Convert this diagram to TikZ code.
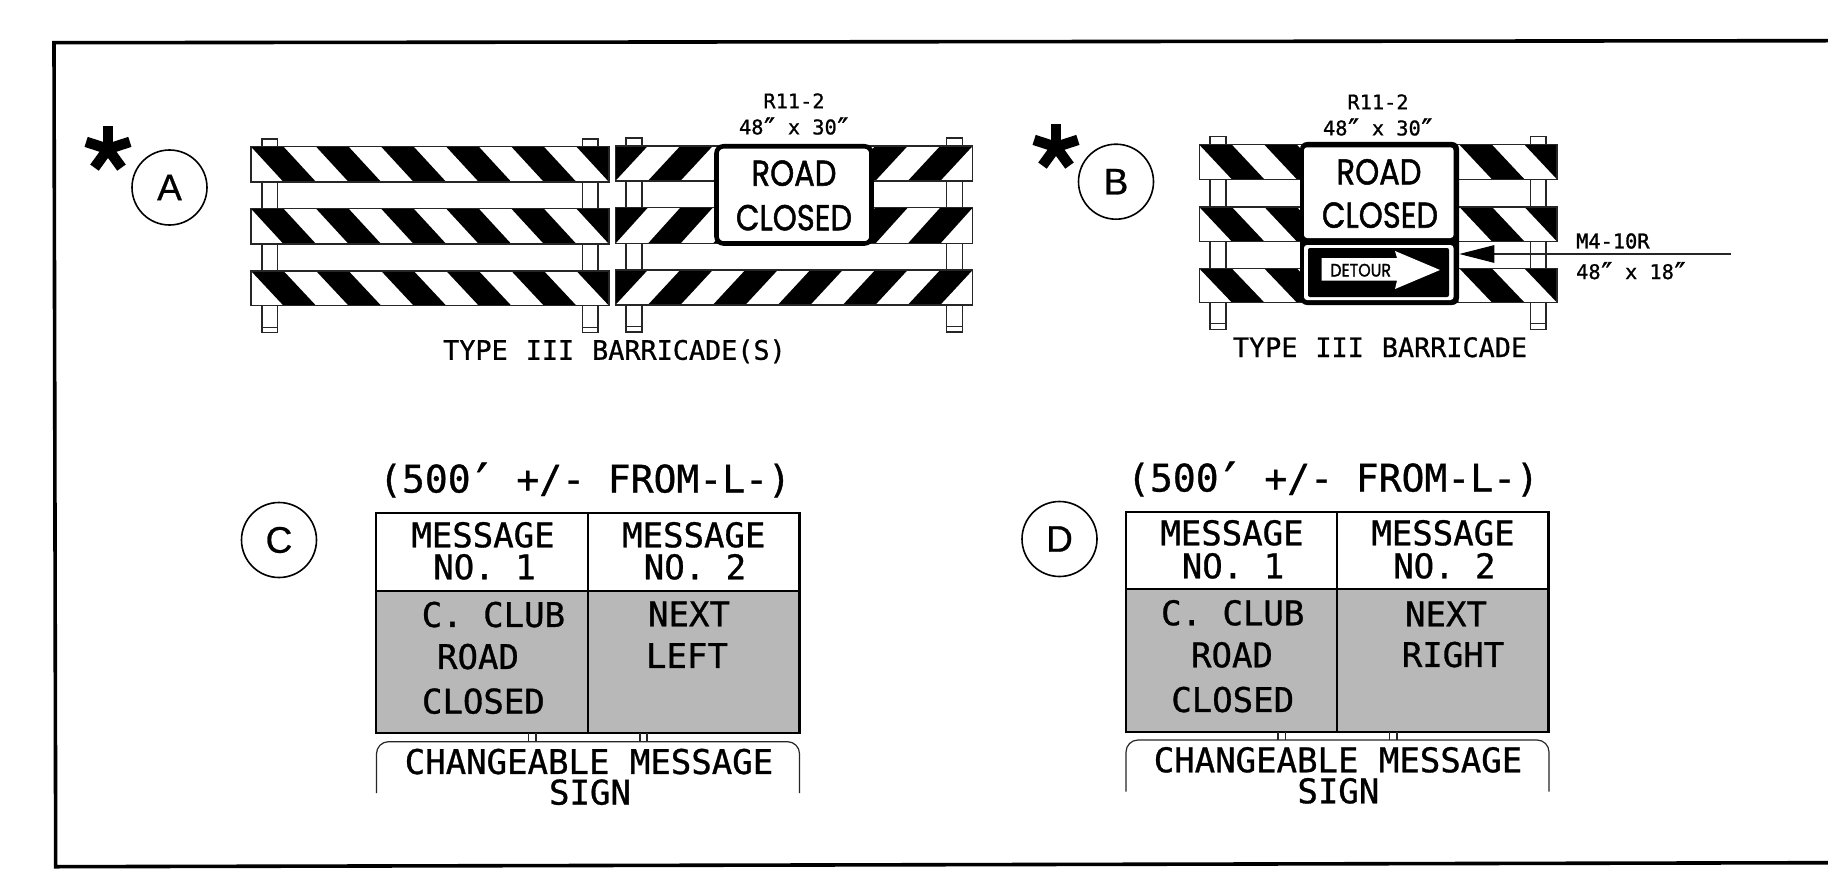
\documentclass[tikz,border=0pt]{standalone}
\usepackage{fontspec}
\usetikzlibrary{arrows.meta}
\setmainfont{Liberation Sans}
\newfontfamily\monof[FakeBold=0.9]{DejaVu Sans Mono}
\newfontfamily\monofb[FakeBold=1.4]{DejaVu Sans Mono}
\newfontfamily\signf[FakeBold=1.4]{Poppins}
\newfontfamily\circf[FakeBold=0.7]{Liberation Sans}
\newcommand{\pxfont}[2]{#1\fontsize{#2pt}{#2pt}\selectfont}
\newcommand{\widesp}{\spaceskip=18pt\relax}
\newcommand{\sprime}{\makebox[0.6em][c]{\raisebox{-0.2em}{\scalebox{1.35}{′}}}}
\newcommand{\dprime}{\makebox[0.6em][c]{\raisebox{-0.22em}{\scalebox{1.45}{″}}}}
\newcommand{\signw}[1]{\scalebox{0.85}[1]{#1}}
\tikzset{
  msg/.style={inner sep=0pt,yshift=1pt,font=\pxfont{\monof}{34},text height=24.5pt,text depth=0pt},
  headtext/.style={inner sep=0pt,font=\pxfont{\monof}{38},text height=27pt,text depth=0pt},
  captext/.style={inner sep=0pt,font=\pxfont{\monof}{26.8},text height=19.5pt,text depth=0pt},
  smalltext/.style={inner sep=0pt,font=\pxfont{\monof}{20.3},text height=14.8pt,text depth=0pt},
  signtext/.style={inner sep=0pt,font=\pxfont{\signf}{36},text height=25.5pt,text depth=0pt},
  letter/.style={circle,draw,line width=1.6pt,minimum size=75pt,inner sep=0pt,font=\pxfont{\circf}{37}},
  thin line/.style={line width=1.2pt,draw=black!85},
  tabline/.style={line width=2.2pt,draw=black},
  noise/.style={fill=black!28},
  capbox/.style={thin line,rounded corners=12pt},
}
% board x0 x1 ytop ybot dir
\newcommand{\board}[5]{%
  \pgfmathsetmacro{\bw}{(#2-#1)/11}%
  \fill[white] (#1,#3) rectangle (#2,#4);
  \begin{scope}
    \clip (#1,#3) rectangle (#2,#4);
    \foreach \k in {0,2,...,10}{
      \fill[black] (#1+\k*\bw,#3) -- (#1+\k*\bw+\bw,#3) -- (#1+\k*\bw+\bw+#5*\bw,#4) -- (#1+\k*\bw+#5*\bw,#4) -- cycle;
    }
  \end{scope}
  \draw[thin line] (#1,#3) rectangle (#2,#4);
}
% post x0 x1 ytop ybot
\newcommand{\post}[4]{%
  \draw[thin line,fill=white] (#1,#3) rectangle (#2,#4);
  \draw[thin line] (#1,#4-5.5) -- (#2,#4-5.5);
}
\newcommand{\asterisk}[2]{%
  \foreach \a in {90,162,234,306,18}{
    \draw[line width=10.5pt] (#1,#2) -- ++({23*cos(\a)},{-23*sin(\a)});
  }
}
\begin{document}
\begin{tikzpicture}[x=1pt,y=-1pt]
\useasboundingbox (0,0) rectangle (1828,869);
\fill[white] (0,0) rectangle (1828,869);
% frame
\draw[line width=3.6pt] (1828,40.7) -- (54,42.7) -- (55.7,866.7) -- (1828,862.7);

% === A
\asterisk{108}{149}
\node[letter] (circA) at (169.5,187.5) {A};
\post{262}{277.5}{139}{332.7}
\post{582.5}{598}{139}{332.7}
\post{626}{642}{138}{332}
\post{946.7}{962.7}{138}{332}
\board{251}{609}{146.7}{182}{1}
\board{251}{609}{208.7}{244}{1}
\board{251}{609}{271}{305.7}{1}
\board{615.3}{972.7}{146}{181}{-1}
\board{615.3}{972.7}{207.7}{243.7}{-1}
\board{615.3}{972.7}{270}{305}{-1}
\draw[line width=4.6pt,fill=white,rounded corners=7pt] (716.5,146.3) rectangle (871.5,243.5);
\node[signtext] (aroad) at (794,173) {\signw{ROAD}};
\node[signtext] (aclosed) at (794,217.5) {\signw{CLOSED}};
\node[smalltext] (ar) at (794,101) {R11-2};
\node[smalltext] (as) at (794,127) {48\dprime{} x 30\dprime};
\node[captext] (acap) at (614.5,350) {\widesp TYPE III BARRICADE(S)};

% === B
\asterisk{1056}{147}
\node[letter] (circB) at (1116,181.7) {B};
\post{1210}{1226}{136.7}{329.3}
\post{1530.7}{1546}{136.7}{329.3}
\board{1199.3}{1557}{144.7}{179.3}{1}
\board{1199.3}{1557}{207}{241.5}{1}
\board{1199.3}{1557}{268.5}{302.5}{1}
\fill[black,rounded corners=7pt] (1300,142) rectangle (1459,305);
\fill[white,rounded corners=3pt] (1304,147.3) rectangle (1453.5,238);
\fill[white,rounded corners=3pt] (1304,245) rectangle (1453.5,300);
\fill[black,rounded corners=2pt] (1308,248) rectangle (1449,297);
\fill[white] (1321.7,258) -- (1397,258) -- (1395,251) -- (1440,270) -- (1395,289) -- (1397,280.7) -- (1321.7,280.7) -- cycle;
\node[inner sep=0pt,font=\pxfont{\signf}{18},text height=13pt,text depth=0pt] (detour) at (1360.7,270) {\scalebox{0.88}[1]{DETOUR}};
\node[signtext] (broad) at (1379,171.7) {\signw{ROAD}};
\node[signtext] (bclosed) at (1380,215) {\signw{CLOSED}};
\node[smalltext] (br) at (1378,102) {R11-2};
\node[smalltext] (bs) at (1378,128) {48\dprime{} x 30\dprime};
\coordinate (mtip) at (1459.3,254);
\coordinate (mend) at (1731,254);
\draw[thin line,-{Triangle[length=35pt,width=17.5pt,fill=black,color=black]}] (mend) -- (mtip);
\node[smalltext,anchor=west,font=\pxfont{\monofb}{20.3}] (mcode) at (1576,241) {M4-10R};
\node[smalltext,anchor=west] (msize) at (1576,271.7) {48\dprime{} x 18\dprime};
\node[captext] (bcap) at (1380,347.3) {\widesp TYPE III BARRICADE};

% === C
\node[letter] (circC) at (279,540) {C};
\node[headtext] (chead) at (585,479) {(500\sprime{} +/- FROM-L-)};
\draw[tabline,noise] (376.2,590.7) rectangle (799.5,733.3);
\draw[tabline] (376.2,513.3) rectangle (799.5,733.3);
\draw[tabline] (376.2,590.7) -- (799.5,590.7);
\draw[tabline] (587.8,513.3) -- (587.8,733.3);
\node[msg] (c1) at (483,536) {MESSAGE};
\node[msg] (c2) at (484.5,568) {NO. 1};
\node[msg] (c3) at (693.8,536) {MESSAGE};
\node[msg] (c4) at (695,568) {NO. 2};
\node[msg] (c5) at (493.4,615.7) {C. CLUB};
\node[msg] (c6) at (478,657.7) {ROAD};
\node[msg] (c7) at (483.4,702.3) {CLOSED};
\node[msg] (c8) at (689,615) {NEXT};
\node[msg] (c9) at (687,656.7) {LEFT};
\draw[thin line] (528.5,733.3) -- (528.5,741.7) (536,733.3) -- (536,741.7) (640,733.3) -- (640,741.7) (647,733.3) -- (647,741.7);
\draw[capbox] (376.5,793) -- (376.5,741.7) -- (799.5,741.7) -- (799.5,793);
\node[msg] (c10) at (589,762.7) {CHANGEABLE MESSAGE};
\node[msg] (c11) at (590,793.3) {SIGN};

% === D
\node[letter] (circD) at (1059.5,539) {D};
\node[headtext] (dhead) at (1333,478) {(500\sprime{} +/- FROM-L-)};
\draw[tabline,noise] (1126,589.3) rectangle (1548.5,731.7);
\draw[tabline] (1126,512) rectangle (1548.5,731.7);
\draw[tabline] (1126,589.3) -- (1548.5,589.3);
\draw[tabline] (1337.2,512) -- (1337.2,731.7);
\node[msg] (d1) at (1232,534) {MESSAGE};
\node[msg] (d2) at (1233,567) {NO. 1};
\node[msg] (d3) at (1443,534) {MESSAGE};
\node[msg] (d4) at (1444.4,567) {NO. 2};
\node[msg] (d5) at (1232.7,614) {C. CLUB};
\node[msg] (d6) at (1232,656) {ROAD};
\node[msg] (d7) at (1232.7,700.7) {CLOSED};
\node[msg] (d8) at (1446,615) {NEXT};
\node[msg] (d9) at (1453,655.7) {RIGHT};
\draw[thin line] (1278,731.7) -- (1278,740) (1285.5,731.7) -- (1285.5,740) (1389.6,731.7) -- (1389.6,740) (1397,731.7) -- (1397,740);
\draw[capbox] (1126,791.7) -- (1126,740) -- (1549,740) -- (1549,791.7);
\node[msg] (d10) at (1338,761) {CHANGEABLE MESSAGE};
\node[msg] (d11) at (1338.4,792) {SIGN};
\end{tikzpicture}
\end{document}
